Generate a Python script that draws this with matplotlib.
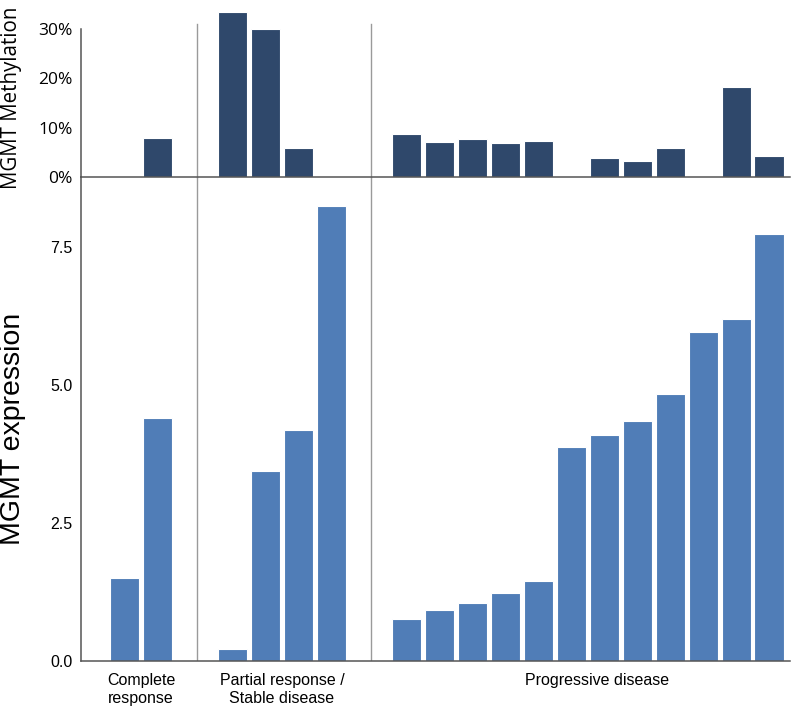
import matplotlib.pyplot as plt
import numpy as np

groups = ['Complete\nresponse', 'Partial response /\nStable disease', 'Progressive disease']
expr_cr = [1.51, 4.40]
expr_pr = [0.21, 3.44, 4.19, 8.24]
expr_pd = [0.76, 0.93, 1.05, 1.24, 1.45, 3.88, 4.10, 4.35, 4.83, 5.97, 6.19, 7.74]
# methylation in %, None = no value shown
meth_cr = [None, 7.9]
meth_pr = [33.5, 30.0, 5.8, None]
meth_pd = [8.7, 7.0, 7.7, 6.8, 7.3, None, 3.8, 3.3, 5.8, None, 18.3, 4.3]
expr_ticks = [0.0, 2.5, 5.0, 7.5]
meth_ticks = [0, 10, 20, 30]

dark = '#2f486b'
light = '#507db7'
sep_col = '#9a9a9a'
spine_col = '#555555'

starts = [1.33, 4.6, 9.88]
seps = [3.52, 8.79]

plt.rcParams['font.family'] = ['Liberation Sans', 'DejaVu Sans']

fig = plt.figure(figsize=(8, 7.09), dpi=100)
ax_b = fig.add_axes([0.101, 0.0677, 0.886, 0.6827])
ax_t = fig.add_axes([0.101, 0.7504, 0.886, 0.2087])

xs_all, expr_all, meth_all = [], [], []
for s, e, m in zip(starts, [expr_cr, expr_pr, expr_pd], [meth_cr, meth_pr, meth_pd]):
    xs = s + np.arange(len(e))
    xs_all.append(xs)
    expr_all.extend(e)
    meth_all.extend(m)
xs = np.concatenate(xs_all)

ax_b.bar(xs, expr_all, width=0.89, color=light, edgecolor='white', linewidth=0.8)
keep = [i for i, v in enumerate(meth_all) if v is not None]
ax_t.bar(xs[keep], [meth_all[i] for i in keep], width=0.89, color=dark,
         edgecolor='white', linewidth=0.8, clip_on=False)

for ax in (ax_b, ax_t):
    ax.set_xlim(0, 21.5)
    ax.spines['top'].set_visible(False)
    ax.spines['right'].set_visible(False)
    ax.spines['left'].set_color(spine_col)
    ax.spines['bottom'].set_color(spine_col)
    ax.spines['left'].set_linewidth(1.1)
    ax.spines['bottom'].set_linewidth(1.1)
    ax.set_xticks([])
    ax.tick_params(axis='y', length=0, pad=6)

ax_b.set_ylim(0, 8.77)
ax_b.set_yticks(expr_ticks)
ax_b.set_yticklabels([f'{t:.1f}' for t in expr_ticks], fontsize=11.5)
ax_b.set_ylabel('MGMT expression', fontsize=20.5)
ax_b.yaxis.set_label_coords(-0.077, 0.48)

ax_t.set_ylim(0, 30)
ax_t.set_yticks(meth_ticks)
ax_t.set_yticklabels([f'{t}%' for t in meth_ticks], fontsize=12.5, family=['Open Sans', 'DejaVu Sans'])
ax_t.set_ylabel('MGMT Methylation', fontsize=14.8, family=['Open Sans', 'DejaVu Sans'])
ax_t.yaxis.set_label_coords(-0.083, 0.535)
ax_t.patch.set_alpha(0)

for sx in seps:
    ax_b.axvline(sx, color=sep_col, linewidth=1.0)
    ax_t.axvline(sx, ymin=0, ymax=1.034, color=sep_col, linewidth=1.0, clip_on=False)

label_x = [starts[0] + 0.5, starts[1] + 1.5, 15.65]
for lx, g in zip(label_x, groups):
    ax_b.text(lx, -0.22, g, ha='center', va='top', fontsize=11.5, linespacing=1.25)

fig.savefig('out.png', dpi=100)
